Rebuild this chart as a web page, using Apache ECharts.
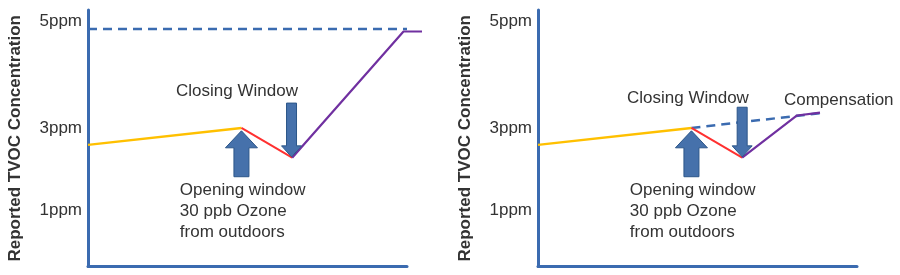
<!DOCTYPE html>
<html>
<head>
<meta charset="utf-8">
<script src="https://cdn.jsdelivr.net/npm/echarts@6/dist/echarts.min.js"></script>
<style>html,body{margin:0;padding:0;background:#fff}#c{width:900px;height:275px}</style>
</head>
<body>
<div id="c"></div>
<script>
// ---- data (schematic: x = time units, y = reported TVOC, drawn scale) ----
const yTickLabels = ['1ppm', '3ppm', '5ppm'];
const yTickValues = [1, 3, 5.58];
const xAxisEnd = 10;          // end of the drawn time axis
const xDataEnd = 10.47;       // left panel's trace runs a little past the axis end

// Left panel: without compensation
const leftBaseline   = [[0, 2.59], [4.81, 3.00]];
const leftOpening    = [[4.81, 3.00], [6.40, 2.28]];
const leftClosing    = [[6.40, 2.28], [9.89, 5.33], [10.47, 5.33]];
const leftThreshold  = [[0, 5.39], [10, 5.39]];
const leftUpArrows   = [[4.81, 2.93, 1.82]];   // [x, tip, tail]
const leftDownArrows = [[6.38, 2.30, 3.60]];
const leftNotes      = [[4.67, 3.89], [2.88, 0.99]];
const leftNoteTexts  = ['Closing Window', 'Opening window\n30 ppb Ozone\nfrom outdoors'];
const leftNoteAlign  = ['center', 'left'];

// Right panel: with compensation
const rightBaseline   = [[0, 2.59], [4.81, 3.00]];
const rightOpening    = [[4.81, 3.00], [6.40, 2.28]];
const rightClosing    = [[6.40, 2.28], [8.12, 3.30], [8.84, 3.37]];
const rightExpected   = [[4.81, 3.00], [8.84, 3.355]];
const rightUpArrows   = [[4.81, 2.93, 1.82]];
const rightDownArrows = [[6.40, 2.30, 3.50]];
const rightNotes      = [[4.70, 3.72], [2.88, 0.99], [7.71, 3.675]];
const rightNoteTexts  = ['Closing Window', 'Opening window\n30 ppb Ozone\nfrom outdoors', 'Compensation'];
const rightNoteAlign  = ['center', 'left', 'left'];

// ---- styles ----
const FONT = "'Liberation Sans', Arial, sans-serif";
const AXIS_BLUE = '#3b6bb0';
const TEXT = '#333333';
const ARROW_FILL = '#4671ab';
const ARROW_STROKE = '#2c5689';
const BIG = {head: 17, half: 16, shaft: 7.5};
const SMALL = {head: 11, half: 10, shaft: 5};
const PX_PER_X = 31.9;
const Y_MIN = -0.35, Y_MAX = 5.85;

function arrowSeries(idx, data, size) {
  return {
    type: 'custom', xAxisIndex: idx, yAxisIndex: idx, data: data, clip: false, z: 5,
    renderItem: function (params, api) {
      const x = api.value(0);
      const tip = api.coord([x, api.value(1)]);
      const tail = api.coord([x, api.value(2)]);
      const dir = tail[1] > tip[1] ? 1 : -1;
      const cx = tip[0];
      const by = tip[1] + dir * size.head;
      const pts = [
        [cx, tip[1]], [cx + size.half, by], [cx + size.shaft, by], [cx + size.shaft, tail[1]],
        [cx - size.shaft, tail[1]], [cx - size.shaft, by], [cx - size.half, by]
      ];
      return {type: 'polygon', shape: {points: pts}, style: {fill: ARROW_FILL, stroke: ARROW_STROKE, lineWidth: 1}};
    }
  };
}
function noteSeries(idx, data, texts, aligns) {
  return {
    type: 'custom', xAxisIndex: idx, yAxisIndex: idx, data: data, clip: false, z: 6,
    renderItem: function (params, api) {
      const p = api.coord([api.value(0), api.value(1)]);
      return {type: 'text', x: p[0], y: p[1], style: {
        text: texts[params.dataIndex], fill: TEXT, fontSize: 17, fontFamily: FONT,
        align: aligns[params.dataIndex], verticalAlign: 'middle', lineHeight: 21
      }};
    }
  };
}
function lineSeries(idx, data, color, width, dashed) {
  return {
    type: 'line', xAxisIndex: idx, yAxisIndex: idx, data: data, symbol: 'none', clip: false,
    lineStyle: {color: color, width: width, type: dashed ? [9, 6] : 'solid'}, z: 3
  };
}

const W = PX_PER_X * xAxisEnd;
const grids = [
  {left: 88, top: 10, width: W, bottom: 8.5, outerBoundsMode: 'none', containLabel: false},
  {left: 538, top: 10, width: W, bottom: 8.5, outerBoundsMode: 'none', containLabel: false},
  // data layer for the left panel (same scale, wider extent, axes hidden)
  {left: 88, top: 10, width: PX_PER_X * xDataEnd, bottom: 8.5, outerBoundsMode: 'none', containLabel: false}
];
const visibleX = i => ({
  type: 'value', gridIndex: i, min: 0, max: xAxisEnd,
  axisLine: {show: true, onZero: false, lineStyle: {color: AXIS_BLUE, width: 3}},
  axisTick: {show: false}, axisLabel: {show: false}, splitLine: {show: false}
});
const visibleY = i => ({
  type: 'value', gridIndex: i, min: Y_MIN, max: Y_MAX,
  name: 'Reported TVOC Concentration', nameLocation: 'middle', nameRotate: 90, nameGap: 64,
  nameTextStyle: {fontSize: 17, fontWeight: 'bold', color: TEXT, fontFamily: FONT},
  axisLine: {show: true, onZero: false, lineStyle: {color: AXIS_BLUE, width: 3}},
  axisTick: {show: false}, splitLine: {show: false},
  axisLabel: {
    customValues: yTickValues, margin: 6, fontSize: 17, color: TEXT, fontFamily: FONT,
    formatter: v => yTickLabels[yTickValues.indexOf(v)] || ''
  }
});
const xAxes = [visibleX(0), visibleX(1),
  {type: 'value', gridIndex: 2, min: 0, max: xDataEnd, show: false}];
const yAxes = [visibleY(0), visibleY(1),
  {type: 'value', gridIndex: 2, min: Y_MIN, max: Y_MAX, show: false}];

const chart = echarts.init(document.getElementById('c'), null, {renderer: 'canvas'});
chart.setOption({
  animation: false,
  grid: grids, xAxis: xAxes, yAxis: yAxes,
  series: [
    lineSeries(2, leftThreshold, AXIS_BLUE, 2.5, true),
    lineSeries(2, leftBaseline, '#ffc000', 2.5),
    lineSeries(2, leftOpening, '#ff3030', 2),
    lineSeries(2, leftClosing, '#7030a0', 2.2),
    arrowSeries(2, leftUpArrows, BIG),
    arrowSeries(2, leftDownArrows, SMALL),
    noteSeries(2, leftNotes, leftNoteTexts, leftNoteAlign),
    lineSeries(1, rightExpected, AXIS_BLUE, 2.5, true),
    lineSeries(1, rightBaseline, '#ffc000', 2.5),
    lineSeries(1, rightOpening, '#ff3030', 2),
    lineSeries(1, rightClosing, '#7030a0', 2.2),
    arrowSeries(1, rightUpArrows, BIG),
    arrowSeries(1, rightDownArrows, SMALL),
    noteSeries(1, rightNotes, rightNoteTexts, rightNoteAlign)
  ]
});
</script>
</body>
</html>
